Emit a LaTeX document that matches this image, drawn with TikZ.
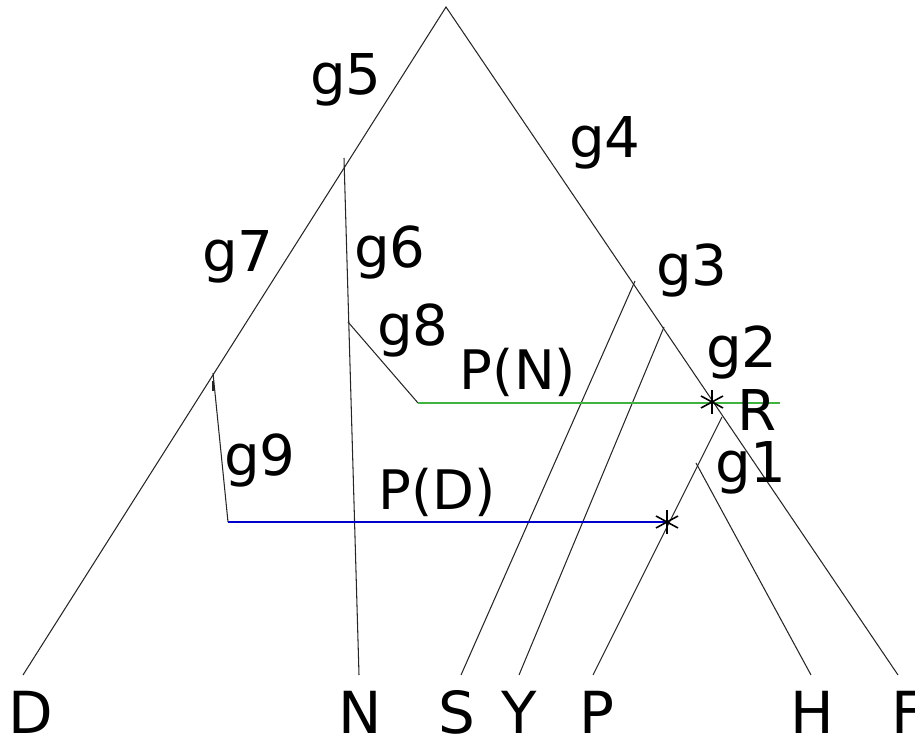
\documentclass[tikz,border=0pt]{standalone}
\usepackage{fontspec}
\setmainfont{DejaVu Sans}
\usetikzlibrary{calc}
\begin{document}
\begin{tikzpicture}[x=0.02cm,y=-0.02cm,
  branch/.style={draw=black!85,line width=0.6pt},
  lbl/.style={font=\fontsize{32}{38}\selectfont,inner sep=0pt},
  leaf/.style={font=\fontsize{33}{40}\selectfont,inner sep=0pt,anchor=base},
  pathN/.style={draw=green!60!black!75,line width=0.8pt},
  pathD/.style={draw=blue!80!black,line width=0.8pt},
  asterisk/.style={line width=0.9pt}]
\useasboundingbox (0,0) rectangle (915,742);

% tree points
\coordinate (apex) at (446,7);
\coordinate (dEnd) at (23,675);
\coordinate (fEnd) at (898,675);
\coordinate (nTop) at (344,158);
\coordinate (nEnd) at (359,675);
\coordinate (g8top) at (348,322);
\coordinate (g8end) at (418,403);
\coordinate (g9top) at (213,373);
\coordinate (g9end) at (228,522);
\coordinate (sTop) at (635,281);
\coordinate (sEnd) at (461,675);
\coordinate (yTop) at (664,327);
\coordinate (yEnd) at (519,675);
\coordinate (pTop) at (722,417);
\coordinate (pEnd) at (593,675);
\coordinate (hTop) at (696,463);
\coordinate (hEnd) at (811,675);
\coordinate (rStar) at (712,402);
\coordinate (dStar) at (667,522);
\coordinate (nRight) at (780,403);

% main branches
\draw[branch] (dEnd) -- (apex) -- (fEnd);
\draw[branch] (nTop) -- (nEnd);
\draw[branch] (g8top) -- (g8end);
\draw[branch] (g9top) -- (g9end);
\draw[branch] (213,381) -- (213,391);
\draw[branch] (sTop) -- (sEnd);
\draw[branch] (yTop) -- (yEnd);
\draw[branch] (pTop) -- (pEnd);
\draw[branch] (hTop) -- (hEnd);

% paths
\draw[pathN] (g8end) -- (nRight);
\draw[pathD] (g9end) -- (dStar);

% asterisks
\foreach \p in {rStar,dStar}{
  \draw[asterisk] ($(\p)+(0,-12)$) -- ($(\p)+(0,12)$);
  \draw[asterisk] ($(\p)+(-11,-6)$) -- ($(\p)+(11,6)$);
  \draw[asterisk] ($(\p)+(-11,6)$) -- ($(\p)+(11,-6)$);
}

% labels
\node[lbl] (g5) at (346,80) {g5};
\node[lbl] (g4) at (605,143) {g4};
\node[lbl] (g7) at (238,257) {g7};
\node[lbl] (g6) at (390,252) {g6};
\node[lbl] (g3) at (692,270) {g3};
\node[lbl] (g8) at (413,330) {g8};
\node[lbl,font=\fontsize{31}{36}\selectfont] (pN) at (518,372) {P(N)};
\node[lbl] (g2) at (742,352) {g2};
\node[lbl] (R)  at (757,410) {R};
\node[lbl] (g9) at (260,460) {g9};
\node[lbl,font=\fontsize{31}{36}\selectfont] (pD) at (437,492) {P(D)};
\node[lbl] (g1) at (751,468) {g1};

% leaves
\node[leaf] (D) at (31,733) {D};
\node[leaf] (N) at (360,733) {N};
\node[leaf] (S) at (457,733) {S};
\node[leaf] (Y) at (519,733) {Y};
\node[leaf] (P) at (597,733) {P};
\node[leaf] (H) at (812,733) {H};
\node[leaf] (F) at (908,733) {F};
\end{tikzpicture}
\end{document}
